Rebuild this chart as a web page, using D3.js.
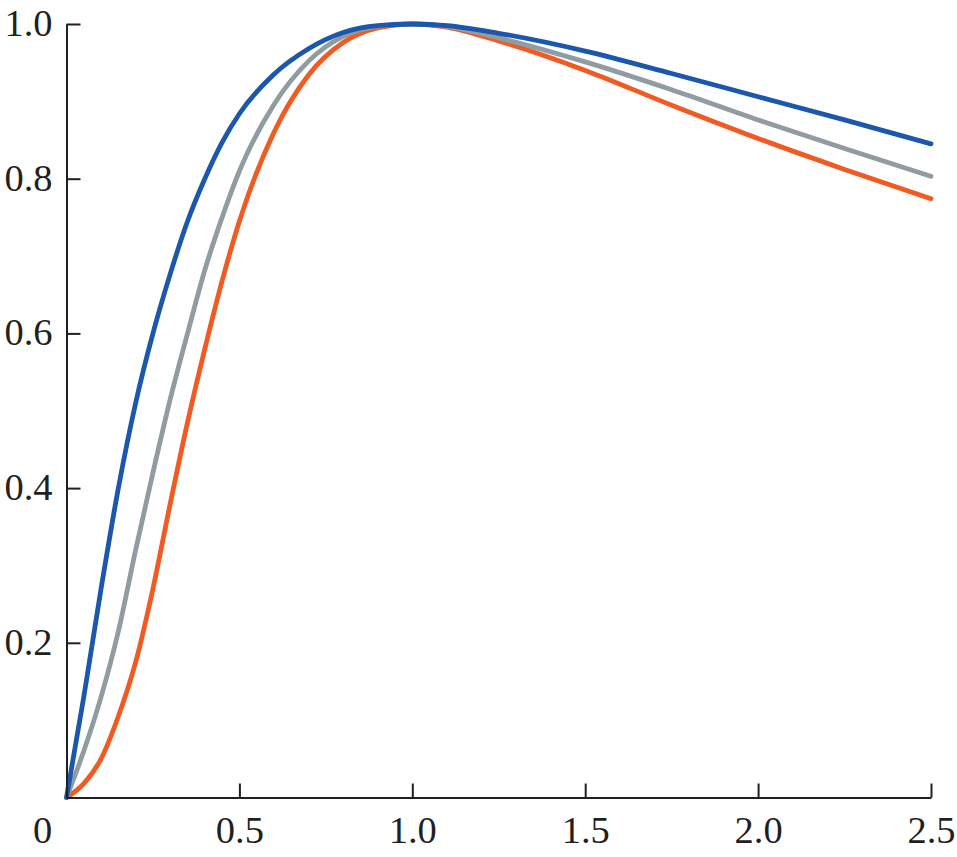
<!DOCTYPE html>
<html>
<head>
<meta charset="utf-8">
<script src="https://cdn.jsdelivr.net/npm/d3@7"></script>
<style>
  html, body { margin: 0; padding: 0; background: #fff; }
  svg { display: block; }
  .axis text { font-family: "Liberation Serif", "Times New Roman", serif; font-size: 38.5px; fill: #231f20; }
  .axis path, .axis line { stroke: #231f20; stroke-width: 2; }
</style>
</head>
<body>
<svg id="chart" width="957" height="857"></svg>
<script>
// ---- data ----
const xTicks = [0.5, 1.0, 1.5, 2.0, 2.5];
const yTicks = [0.2, 0.4, 0.6, 0.8, 1.0];

const xValues = [0, 0.05, 0.10, 0.15, 0.20, 0.25, 0.30, 0.35, 0.40, 0.45, 0.50,
                 0.60, 0.70, 0.80, 0.90, 1.0, 1.1, 1.25, 1.5, 1.75, 2.0, 2.25, 2.5];
const blueValues = [0, 0.13, 0.27, 0.40, 0.51, 0.60, 0.677, 0.745, 0.80, 0.847, 0.884,
                    0.935, 0.968, 0.989, 0.998, 1.0, 0.998, 0.988, 0.965, 0.936, 0.906, 0.876, 0.845];
const greyValues = [0, 0.06, 0.13, 0.215, 0.32, 0.42, 0.515, 0.60, 0.682, 0.75, 0.81,
                    0.896, 0.952, 0.984, 0.997, 1.0, 0.997, 0.982, 0.951, 0.915, 0.876, 0.839, 0.803];
const orangeValues = [0, 0.018, 0.05, 0.105, 0.175, 0.27, 0.38, 0.485, 0.58, 0.668, 0.745,
                      0.86, 0.934, 0.976, 0.995, 1.0, 0.996, 0.978, 0.94, 0.895, 0.852, 0.812, 0.774];

const seriesList = [
  { name: "orange", color: "#f15a22", values: orangeValues },
  { name: "grey", color: "#8f9ca2", values: greyValues },
  { name: "blue", color: "#1b57ad", values: blueValues }
];

// ---- layout ----
const svg = d3.select("#chart");
const x = d3.scaleLinear().domain([0, 2.5]).range([66.5, 931]);
const y = d3.scaleLinear().domain([0, 1]).range([797.5, 24]);

const line = d3.line()
  .x((d, i) => x(xValues[i]))
  .y(d => y(d))
  .curve(d3.curveMonotoneX);

svg.append("g")
  .selectAll("path")
  .data(seriesList)
  .join("path")
  .attr("fill", "none")
  .attr("stroke", d => d.color)
  .attr("stroke-width", 4.8)
  .attr("stroke-linecap", "round")
  .attr("stroke-linejoin", "round")
  .attr("d", d => line(d.values));

// axes
const yAxis = d3.axisLeft(y)
  .tickValues(yTicks)
  .tickFormat(d3.format(".1f"))
  .tickSizeInner(-14)
  .tickSizeOuter(0)
  .tickPadding(14);
const gy = svg.append("g").attr("class", "axis").attr("transform", `translate(${x(0)},0)`).call(yAxis);
gy.selectAll("text").attr("dy", "0.30em");

const xAxis = d3.axisBottom(x)
  .tickValues(xTicks)
  .tickFormat(d3.format(".1f"))
  .tickSizeInner(-14)
  .tickSizeOuter(0)
  .tickPadding(18);
svg.append("g").attr("class", "axis").attr("transform", `translate(0,${y(0)})`).call(xAxis);

// origin label
svg.append("text")
  .attr("x", x(0) - 24)
  .attr("y", y(0) + 45)
  .attr("text-anchor", "middle")
  .style("font-family", '"Liberation Serif", "Times New Roman", serif')
  .style("font-size", "38.5px")
  .style("fill", "#231f20")
  .text("0");
</script>
</body>
</html>
